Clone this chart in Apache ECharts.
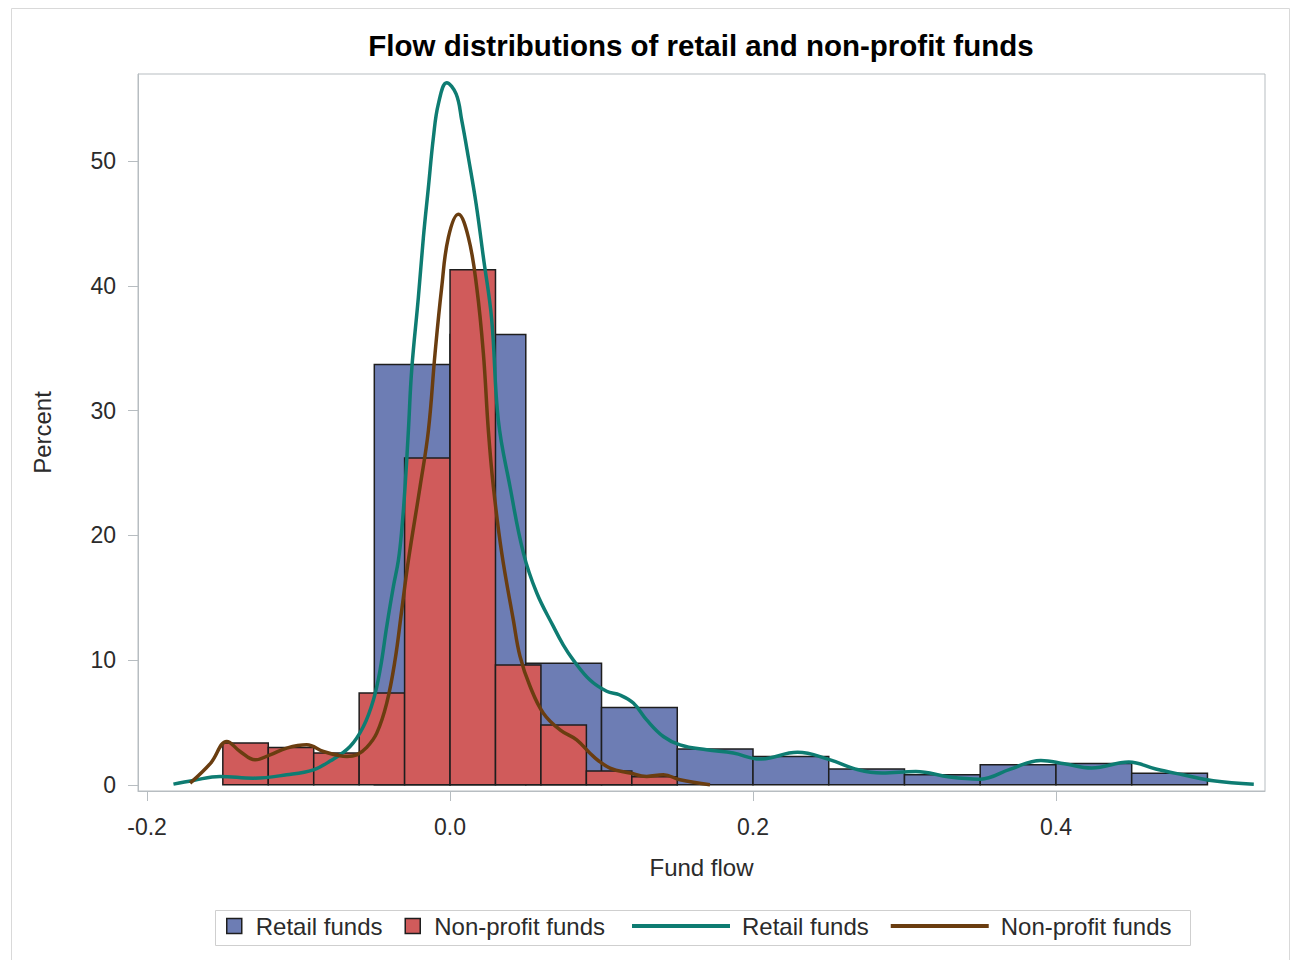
<!DOCTYPE html>
<html>
<head>
<meta charset="utf-8">
<title>Flow distributions of retail and non-profit funds</title>
<script src="https://cdn.jsdelivr.net/npm/echarts@6/dist/echarts.min.js"></script>
<style>
  html, body { margin: 0; padding: 0; background: #fff; }
  #chart { width: 1292px; height: 960px; }
</style>
</head>
<body>
<div id="chart"></div>
<script>
// Histogram bin edges (fund flow) and bar heights (percent of funds)
const retailEdges = [-0.05, 0, 0.05, 0.1, 0.15, 0.2, 0.25, 0.3, 0.35, 0.4, 0.45, 0.5];
const retailPct = [33.7, 36.1, 9.75, 6.2, 2.87, 2.27, 1.26, 0.8, 1.6, 1.7, 0.93];

const nonprofitEdges = [-0.15, -0.12, -0.09, -0.06, -0.03, 0, 0.03, 0.06, 0.09, 0.12, 0.15];
const nonprofitPct = [3.34, 2.99, 2.54, 7.35, 26.2, 41.3, 9.6, 4.8, 1.1, 0.65];

// Kernel density curves: fund flow positions and density (percent scale)
const retailKdeX = [-0.1826, -0.1694, -0.1518, -0.1298, -0.1078, -0.0902, -0.0792, -0.066, -0.0572,
  -0.0506, -0.0462, -0.0418, -0.0374, -0.0341, -0.0319, -0.0297, -0.0275, -0.0253, -0.0209, -0.0176,
  -0.0143, -0.011, -0.0077, -0.0022, 0.004, 0.0077, 0.0121, 0.0172, 0.022, 0.0275, 0.0319, 0.0396,
  0.0484, 0.0572, 0.0682, 0.0748, 0.0814, 0.0924, 0.1034, 0.1122, 0.121, 0.1298, 0.1408, 0.1518,
  0.1694, 0.187, 0.2046, 0.2294, 0.2495, 0.2695, 0.2852, 0.3075, 0.3298, 0.35, 0.37, 0.39, 0.4056,
  0.4235, 0.4481, 0.4659, 0.4838, 0.5038, 0.5306];
const retailKdeY = [0.05, 0.35, 0.67, 0.53, 0.8, 1.2, 1.9, 3.07, 4.67,
  6.8, 9.2, 12.7, 15.9, 18.0, 20.4, 23.9, 28.4, 33.3, 39.1, 43.9,
  47.9, 51.9, 54.6, 56.3, 55.4, 53.3, 50.3, 46.6, 42.3, 37.3, 29.2, 23.9,
  18.6, 15.4, 12.7, 11.2, 10.0, 8.4, 7.5, 7.2, 6.55, 5.2, 3.87, 3.2,
  2.8, 2.54, 2.06, 2.6, 2.06, 1.2, 0.94, 1.07, 0.62, 0.45, 1.26, 1.95, 1.68,
  1.34, 1.82, 1.26, 0.8, 0.32, 0.05];

const nonprofitKdeX = [-0.1716, -0.158, -0.1474, -0.1386, -0.1287, -0.1188, -0.1078, -0.0946, -0.0836,
  -0.0726, -0.068, -0.0616, -0.055, -0.0484, -0.0418, -0.0363, -0.0319, -0.0275, -0.0198, -0.0143,
  -0.0099, -0.0055, -0.0011, 0.0055, 0.0121, 0.0176, 0.022, 0.0253, 0.0286, 0.0341, 0.0418, 0.0462,
  0.0528, 0.0616, 0.0726, 0.0836, 0.0946, 0.1056, 0.1188, 0.1298, 0.1408, 0.1518, 0.1716];
const nonprofitKdeY = [0.13, 1.74, 3.47, 2.67, 2.0, 2.4, 2.94, 3.2, 2.67,
  2.32, 2.27, 2.4, 3.0, 4.14, 6.55, 10.0, 14.0, 18.0, 23.9, 28.4,
  34.6, 39.9, 43.9, 45.75, 43.9, 39.9, 34.6, 28.4, 23.9, 18.6, 13.2, 10.3,
  7.9, 5.74, 4.4, 3.6, 2.27, 1.34, 0.94, 0.67, 0.8, 0.4, 0.0];

// Axis ticks
const xTicks = [-0.2, 0, 0.2, 0.4];
const yTicks = [0, 10, 20, 30, 40, 50];

const FONT = 'Liberation Sans, Arial, sans-serif';
const TEXT = '#2b2b2b';
const FRAME = '#b7bdc1';
const BLUE = '#6d7db4';
const RED = '#d05b5b';
const TEAL = '#0e7c72';
const BROWN = '#6a3d10';
const EDGE = '#1e1e1e';
const LINE_ICON = 'path://M0,0 L100,0 L100,4 L0,4 Z';

function bins(edges, values) {
  return values.map((v, i) => [edges[i], edges[i + 1], v]);
}
function pairs(xs, ys) {
  return xs.map((x, i) => [x, ys[i]]);
}

// Each bin is a rectangle spanning [start, end] on the value axis
function renderBin(params, api) {
  const start = api.coord([api.value(0), api.value(2)]);
  const end = api.coord([api.value(1), 0]);
  return {
    type: 'rect',
    shape: { x: start[0], y: start[1], width: end[0] - start[0], height: end[1] - start[1] },
    style: { fill: api.visual('color'), stroke: EDGE, lineWidth: 1.5 }
  };
}

const legendLabels = {
  'Retail funds histogram': 'Retail funds',
  'Non-profit funds histogram': 'Non-profit funds',
  'Retail funds density': 'Retail funds',
  'Non-profit funds density': 'Non-profit funds'
};

const chart = echarts.init(document.getElementById('chart'), null, { renderer: 'svg' });

chart.setOption({
  backgroundColor: '#ffffff',
  animation: false,
  textStyle: { fontFamily: FONT },
  graphic: [
    {
      type: 'rect', left: 9, top: 6, silent: true,
      shape: { width: 1278, height: 960 },
      style: { fill: 'none', stroke: '#d9d9d9', lineWidth: 1 }
    },
    {
      type: 'rect', left: 213, top: 908, silent: true,
      shape: { width: 975, height: 35 },
      style: { fill: 'none', stroke: '#cfcfcf', lineWidth: 1 }
    },
    {
      type: 'text', x: 701, y: 30, silent: true,
      style: {
        text: 'Flow distributions of retail and non-profit funds',
        font: 'bold 29.5px ' + FONT, fill: '#000', align: 'center', verticalAlign: 'top'
      }
    }
  ],
  grid: {
    left: 138, right: 27, top: 74, bottom: 169,
    show: true, borderColor: FRAME, borderWidth: 1, backgroundColor: '#fff'
  },
  legend: [
    {
      left: 226, top: 914, padding: 0,
      itemWidth: 15, itemHeight: 15, itemGap: 22,
      textStyle: { fontSize: 24, color: TEXT, fontFamily: FONT, padding: [0, 0, 0, 9] },
      formatter: (name) => legendLabels[name],
      data: [
        { name: 'Retail funds histogram', icon: 'rect', itemStyle: { color: BLUE, borderColor: EDGE, borderWidth: 1.5 } },
        { name: 'Non-profit funds histogram', icon: 'rect', itemStyle: { color: RED, borderColor: EDGE, borderWidth: 1.5 } }
      ],
      selectedMode: false
    },
    {
      left: 632, top: 914, padding: 0,
      itemWidth: 98, itemHeight: 15, itemGap: 22,
      textStyle: { fontSize: 24, color: TEXT, fontFamily: FONT, padding: [0, 0, 0, 7] },
      formatter: (name) => legendLabels[name],
      data: [
        { name: 'Retail funds density', icon: LINE_ICON, itemStyle: { color: TEAL, borderWidth: 0 } },
        { name: 'Non-profit funds density', icon: LINE_ICON, itemStyle: { color: BROWN, borderWidth: 0 } }
      ],
      selectedMode: false
    }
  ],
  xAxis: {
    type: 'value',
    min: -0.206, max: 0.538,
    name: 'Fund flow', nameLocation: 'middle', nameGap: 64,
    nameTextStyle: { fontSize: 24, color: TEXT, fontFamily: FONT },
    axisLine: { show: true, onZero: false, lineStyle: { color: FRAME } },
    axisTick: { show: true, customValues: xTicks, length: 10, lineStyle: { color: FRAME } },
    axisLabel: {
      customValues: xTicks, margin: 24, fontSize: 23, color: TEXT, fontFamily: FONT,
      formatter: (v) => v.toFixed(1)
    },
    splitLine: { show: false }
  },
  yAxis: {
    type: 'value',
    min: -0.5, max: 57,
    name: 'Percent', nameLocation: 'middle', nameGap: 84, nameRotate: 90,
    nameTextStyle: { fontSize: 24, color: TEXT, fontFamily: FONT },
    axisLine: { show: true, onZero: false, lineStyle: { color: FRAME } },
    axisTick: { show: true, customValues: yTicks, length: 10, lineStyle: { color: FRAME } },
    axisLabel: { customValues: yTicks, margin: 22, fontSize: 23, color: TEXT, fontFamily: FONT },
    splitLine: { show: false }
  },
  series: [
    {
      name: 'Retail funds histogram', type: 'custom', renderItem: renderBin,
      itemStyle: { color: BLUE }, encode: { x: [0, 1], y: 2 },
      data: bins(retailEdges, retailPct), z: 2
    },
    {
      name: 'Non-profit funds histogram', type: 'custom', renderItem: renderBin,
      itemStyle: { color: RED }, encode: { x: [0, 1], y: 2 },
      data: bins(nonprofitEdges, nonprofitPct), z: 3
    },
    {
      name: 'Retail funds density', type: 'line', smooth: 0.4, symbol: 'none',
      lineStyle: { color: TEAL, width: 3.5 }, itemStyle: { color: TEAL },
      data: pairs(retailKdeX, retailKdeY), z: 4
    },
    {
      name: 'Non-profit funds density', type: 'line', smooth: 0.4, symbol: 'none',
      lineStyle: { color: BROWN, width: 3.5 }, itemStyle: { color: BROWN },
      data: pairs(nonprofitKdeX, nonprofitKdeY), z: 5
    }
  ]
});
</script>
</body>
</html>
